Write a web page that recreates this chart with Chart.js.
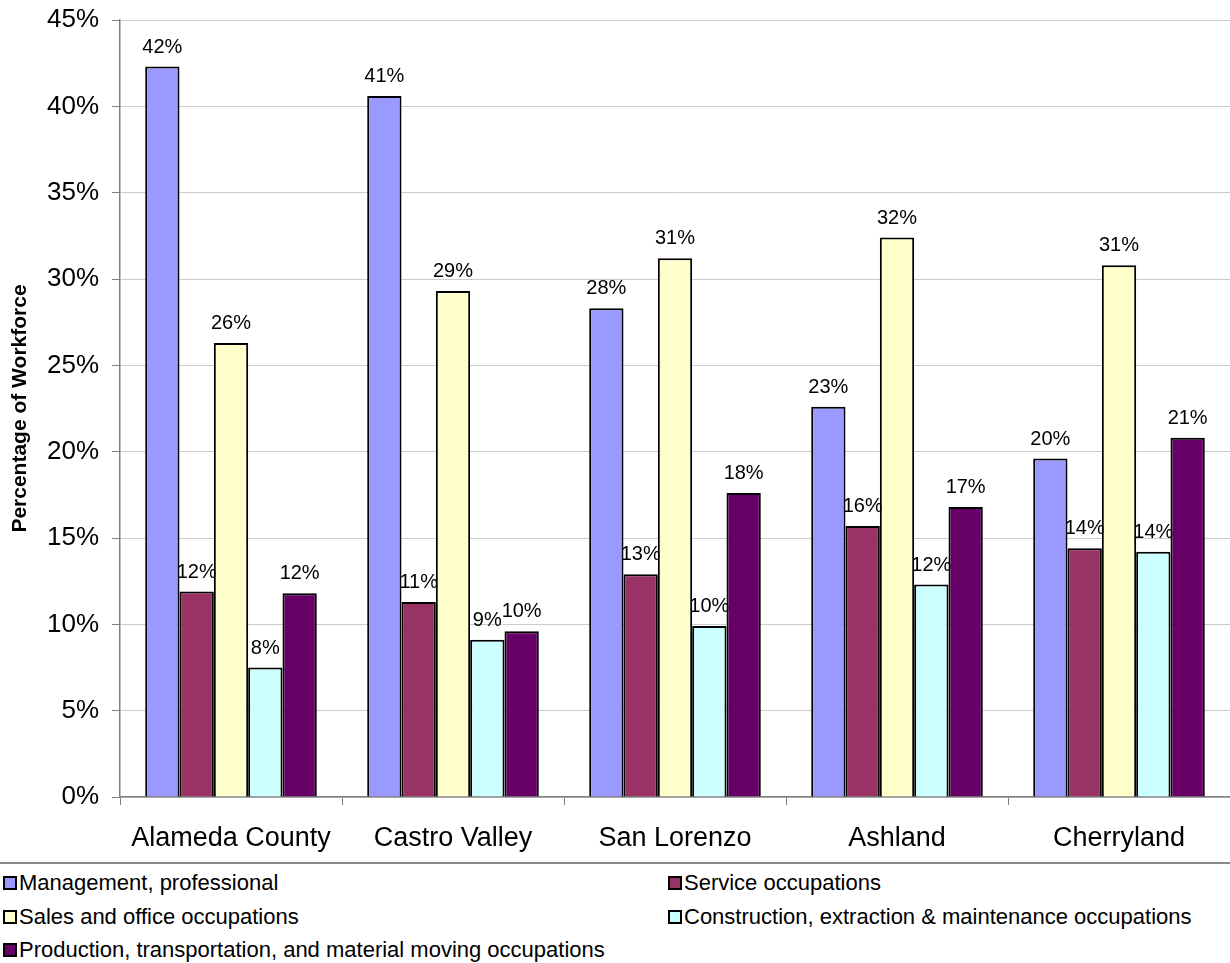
<!DOCTYPE html>
<html>
<head>
<meta charset="utf-8">
<script src="https://cdn.jsdelivr.net/npm/chart.js@4/dist/chart.umd.min.js"></script>
<style>
  html, body { margin: 0; padding: 0; background: #fff; }
  #wrap { position: relative; width: 1230px; height: 963px; font-family: "Liberation Sans", Arial, sans-serif; }
  #chartBox { position: absolute; left: 0; top: 0; width: 1230px; height: 862px; }
  #sep { position: absolute; left: 0; top: 862px; width: 1230px; height: 2px; background: #8a8a8a; }
  .lg { position: absolute; font-size: 22px; color: #000; white-space: nowrap; line-height: 24px; }
  .lg .mk { position: absolute; left: 0; top: 5px; width: 10px; height: 10px; border: 2px solid #000; }
  .lg .tx { position: absolute; left: 16px; top: 0; }
</style>
</head>
<body>
<div id="wrap">
  <div id="chartBox"><canvas id="c" width="1230" height="862"></canvas></div>
  <div id="sep"></div>
  <div id="legend"></div>
</div>
<script>
// ---- data ----
const categories = ["Alameda County", "Castro Valley", "San Lorenzo", "Ashland", "Cherryland"];
const seriesNames = [
  "Management, professional",
  "Service occupations",
  "Sales and office occupations",
  "Construction, extraction & maintenance occupations",
  "Production, transportation, and material moving occupations"
];
const management   = [42.3, 40.6, 28.3, 22.6, 19.6];
const service      = [11.9, 11.3, 12.9, 15.7, 14.4];
const sales        = [26.3, 29.3, 31.2, 32.4, 30.8];
const construction = [7.5, 9.1, 9.9, 12.3, 14.2];
const production   = [11.8, 9.6, 17.6, 16.8, 20.8];
const yTicks = [0, 5, 10, 15, 20, 25, 30, 35, 40, 45];
const yTitle = "Percentage of Workforce";

// ---- styles ----
const seriesValues = [management, service, sales, construction, production];
const seriesColors = ["#9999FF", "#993366", "#FFFFCC", "#CCFFFF", "#660066"];
const FONT = '"Liberation Sans", Arial, sans-serif';

const labelPlugin = {
  id: 'valueLabels',
  beforeDatasetsDraw(chart) {
    const ctx = chart.ctx;
    ctx.save();
    ctx.font = '20px ' + FONT;
    ctx.fillStyle = '#000';
    ctx.textAlign = 'center';
    ctx.textBaseline = 'alphabetic';
    chart.data.datasets.forEach((ds, i) => {
      const meta = chart.getDatasetMeta(i);
      meta.data.forEach((bar, j) => {
        const v = ds.data[j];
        ctx.fillText(Math.round(v) + '%', bar.x, bar.y - 14);
      });
    });
    ctx.restore();
  }
};

new Chart(document.getElementById('c'), {
  type: 'bar',
  data: {
    labels: categories,
    datasets: seriesNames.map((n, i) => ({
      label: n,
      data: seriesValues[i],
      backgroundColor: seriesColors[i],
      borderColor: '#000',
      borderWidth: 2,
      categoryPercentage: 0.773,
      barPercentage: 1.0
    }))
  },
  options: {
    responsive: false,
    animation: false,
    devicePixelRatio: 1,
    layout: { padding: { top: 20, right: 0, left: 0, bottom: 0 } },
    plugins: { legend: { display: false }, tooltip: { enabled: false } },
    scales: {
      y: {
        min: 0, max: 45,
        afterBuildTicks(scale) { scale.ticks = yTicks.map(v => ({ value: v })); },
        afterFit(scale) { scale.width = 120; scale.paddingTop = 0; scale.paddingBottom = 0; },
        ticks: {
          callback: v => v + '%',
          font: { family: FONT, size: 26 },
          color: '#000',
          padding: 13
        },
        grid: { color: '#cccccc', tickColor: '#808080', tickLength: 8, lineWidth: 1 },
        border: { color: '#808080', width: 1.5 },
        title: {
          display: true,
          text: yTitle,
          font: { family: FONT, size: 21, weight: 'bold' },
          color: '#000',
          padding: { top: 8, bottom: 0 }
        }
      },
      x: {
        afterFit(scale) { scale.height = 65; scale.paddingLeft = 0; scale.paddingRight = 0; },
        ticks: {
          font: { family: FONT, size: 27 },
          color: '#000',
          padding: 17,
          maxRotation: 0
        },
        grid: { offset: true, drawOnChartArea: false, tickColor: '#808080', tickLength: 8 },
        border: { color: '#808080', width: 1.5 }
      }
    }
  },
  plugins: [labelPlugin]
});

// ---- HTML legend ----
const legendPos = [
  { left: 3, top: 871 }, { left: 668, top: 871 },
  { left: 3, top: 905 }, { left: 668, top: 905 },
  { left: 3, top: 938 }
];
const lg = document.getElementById('legend');
seriesNames.forEach((n, i) => {
  const d = document.createElement('div');
  d.className = 'lg';
  d.style.left = legendPos[i].left + 'px';
  d.style.top = legendPos[i].top + 'px';
  const mk = document.createElement('span');
  mk.className = 'mk';
  mk.style.background = seriesColors[i];
  const tx = document.createElement('span');
  tx.className = 'tx';
  tx.textContent = n;
  d.appendChild(mk); d.appendChild(tx);
  lg.appendChild(d);
});
</script>
</body>
</html>
